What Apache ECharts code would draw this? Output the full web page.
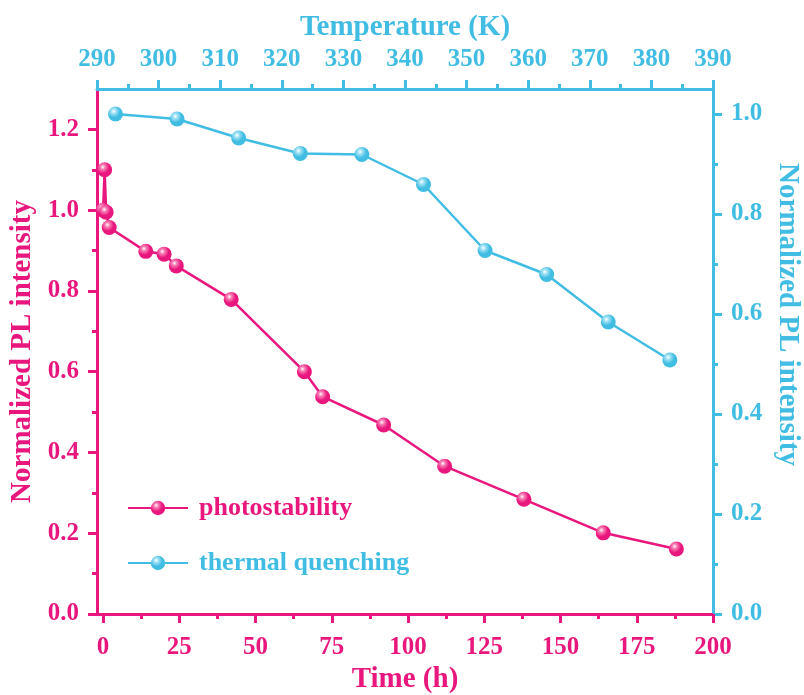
<!DOCTYPE html>
<html>
<head>
<meta charset="utf-8">
<script src="https://cdn.jsdelivr.net/npm/echarts@6/dist/echarts.min.js"></script>
<style>
  html, body { margin: 0; padding: 0; background: #fff; }
  #chart { width: 804px; height: 695px; }
</style>
</head>
<body>
<div id="chart"></div>
<script>
// photostability: time (h) vs normalized PL
const photoTime = [0, 0.5, 1, 2, 14, 20, 24, 42, 66, 72, 92, 112, 138, 164, 188];
const photoValue = [1.0, 1.1, 0.995, 0.957, 0.898, 0.891, 0.862, 0.779, 0.6, 0.538, 0.468, 0.366, 0.284, 0.201, 0.161];

// thermal quenching: temperature (K) vs normalized PL
const thermalTemp = [293, 303, 313, 323, 333, 343, 353, 363, 373, 383];
const thermalValue = [1.0, 0.99, 0.952, 0.921, 0.919, 0.859, 0.727, 0.679, 0.584, 0.508];

// tick positions
const timeTicks = [0, 25, 50, 75, 100, 125, 150, 175, 200];
const timeMinorTicks = [12.5, 37.5, 62.5, 87.5, 112.5, 137.5, 162.5, 187.5];
const tempMinorTicks = [295, 305, 315, 325, 335, 345, 355, 365, 375, 385];
const leftTicks = [0, 0.2, 0.4, 0.6, 0.8, 1.0, 1.2];
const leftMinorTicks = [0.1, 0.3, 0.5, 0.7, 0.9, 1.1];
const rightTicks = [0, 0.2, 0.4, 0.6, 0.8, 1.0];
const rightMinorTicks = [0.1, 0.3, 0.5, 0.7, 0.9];

const pink = '#E9177D';
const blue = '#41BDE3';
const font = 'Liberation Serif';

const chart = echarts.init(document.getElementById('chart'), null, { renderer: 'canvas' });

function ball(base, light) {
  return new echarts.graphic.RadialGradient(0.38, 0.32, 0.7, [
    { offset: 0, color: '#ffffff' },
    { offset: 0.22, color: light },
    { offset: 0.6, color: base },
    { offset: 1, color: base },
  ]);
}

function tickLabel(color) {
  return { color, fontFamily: font, fontWeight: 'bold', fontSize: 25 };
}

function nameStyle(color) {
  return { color, fontFamily: font, fontWeight: 'bold', fontSize: 29 };
}

// axis that only draws the short minor ticks (lives on the overlay grid)
function minorAxis(gridIndex, position, min, max, color, values) {
  return {
    type: 'value',
    gridIndex,
    position,
    min,
    max,
    axisLine: { show: false, onZero: false },
    axisTick: { show: true, inside: false, length: 5, lineStyle: { width: 3, color }, customValues: values },
    axisLabel: { show: false },
    splitLine: { show: false },
  };
}

const gridBox = { left: 97, right: 91, top: 89, bottom: 81, outerBoundsMode: 'none', containLabel: false };

const option = {
  animation: false,
  backgroundColor: '#fff',
  grid: [Object.assign({}, gridBox), Object.assign({}, gridBox)],
  legend: {
    orient: 'vertical',
    left: 122,
    top: 490,
    itemWidth: 60,
    itemHeight: 18,
    itemGap: 29,
    data: [
      { name: 'photostability', textStyle: { color: pink } },
      { name: 'thermal quenching', textStyle: { color: blue } },
    ],
    textStyle: { fontFamily: font, fontWeight: 'bold', fontSize: 26, padding: [0, 0, 0, 6] },
  },
  xAxis: [
    {
      type: 'value',
      gridIndex: 0,
      position: 'bottom',
      min: -2,
      max: 200,
      name: 'Time (h)',
      nameLocation: 'middle',
      nameGap: 49,
      nameTextStyle: nameStyle(pink),
      axisLine: { show: true, onZero: false, lineStyle: { color: pink, width: 3 } },
      axisTick: { show: true, inside: false, length: 9, lineStyle: { width: 3, color: pink }, customValues: timeTicks },
      axisLabel: Object.assign(tickLabel(pink), { margin: 21, customValues: timeTicks }),
      splitLine: { show: false },
    },
    {
      type: 'value',
      gridIndex: 0,
      position: 'top',
      min: 290,
      max: 390,
      interval: 10,
      name: 'Temperature (K)',
      nameLocation: 'middle',
      nameGap: 47,
      nameTextStyle: nameStyle(blue),
      axisLine: { show: true, onZero: false, lineStyle: { color: blue, width: 3 } },
      axisTick: { show: true, inside: false, length: 9, lineStyle: { width: 3, color: blue } },
      axisLabel: Object.assign(tickLabel(blue), { margin: 17 }),
      splitLine: { show: false },
    },
    minorAxis(1, 'bottom', -2, 200, pink, timeMinorTicks),
    minorAxis(1, 'top', 290, 390, blue, tempMinorTicks),
  ],
  yAxis: [
    {
      type: 'value',
      gridIndex: 0,
      position: 'left',
      min: 0,
      max: 1.3,
      name: 'Normalized PL intensity',
      nameLocation: 'middle',
      nameGap: 60,
      nameTextStyle: nameStyle(pink),
      axisLine: { show: true, onZero: false, lineStyle: { color: pink, width: 3 } },
      axisTick: { show: true, inside: false, length: 9, lineStyle: { width: 3, color: pink }, customValues: leftTicks },
      axisLabel: Object.assign(tickLabel(pink), {
        margin: 18,
        customValues: leftTicks,
        formatter: (v) => v.toFixed(1),
      }),
      splitLine: { show: false },
    },
    {
      type: 'value',
      gridIndex: 0,
      position: 'right',
      min: 0,
      max: 1.05,
      name: 'Normalized PL intensity',
      nameLocation: 'middle',
      nameRotate: -90,
      nameGap: 58,
      nameTextStyle: Object.assign(nameStyle(blue), { padding: [0, 74, 0, 0] }),
      axisLine: { show: true, onZero: false, lineStyle: { color: blue, width: 3 } },
      axisTick: { show: true, inside: false, length: 9, lineStyle: { width: 3, color: blue }, customValues: rightTicks },
      axisLabel: Object.assign(tickLabel(blue), {
        margin: 18,
        customValues: rightTicks,
        formatter: (v) => v.toFixed(1),
      }),
      splitLine: { show: false },
    },
    minorAxis(1, 'left', 0, 1.3, pink, leftMinorTicks),
    minorAxis(1, 'right', 0, 1.05, blue, rightMinorTicks),
  ],
  series: [
    {
      name: 'photostability',
      type: 'line',
      xAxisIndex: 0,
      yAxisIndex: 0,
      data: photoTime.map((t, i) => [t, photoValue[i]]),
      symbol: 'circle',
      symbolSize: 15,
      lineStyle: { color: pink, width: 2.5 },
      itemStyle: { color: ball(pink, '#F97FB5') },
      z: 3,
    },
    {
      name: 'thermal quenching',
      type: 'line',
      xAxisIndex: 1,
      yAxisIndex: 1,
      data: thermalTemp.map((t, i) => [t, thermalValue[i]]),
      symbol: 'circle',
      symbolSize: 15,
      lineStyle: { color: blue, width: 2.5 },
      itemStyle: { color: ball(blue, '#A2E2F5') },
      z: 3,
    },
  ],
};

chart.setOption(option);
</script>
</body>
</html>
